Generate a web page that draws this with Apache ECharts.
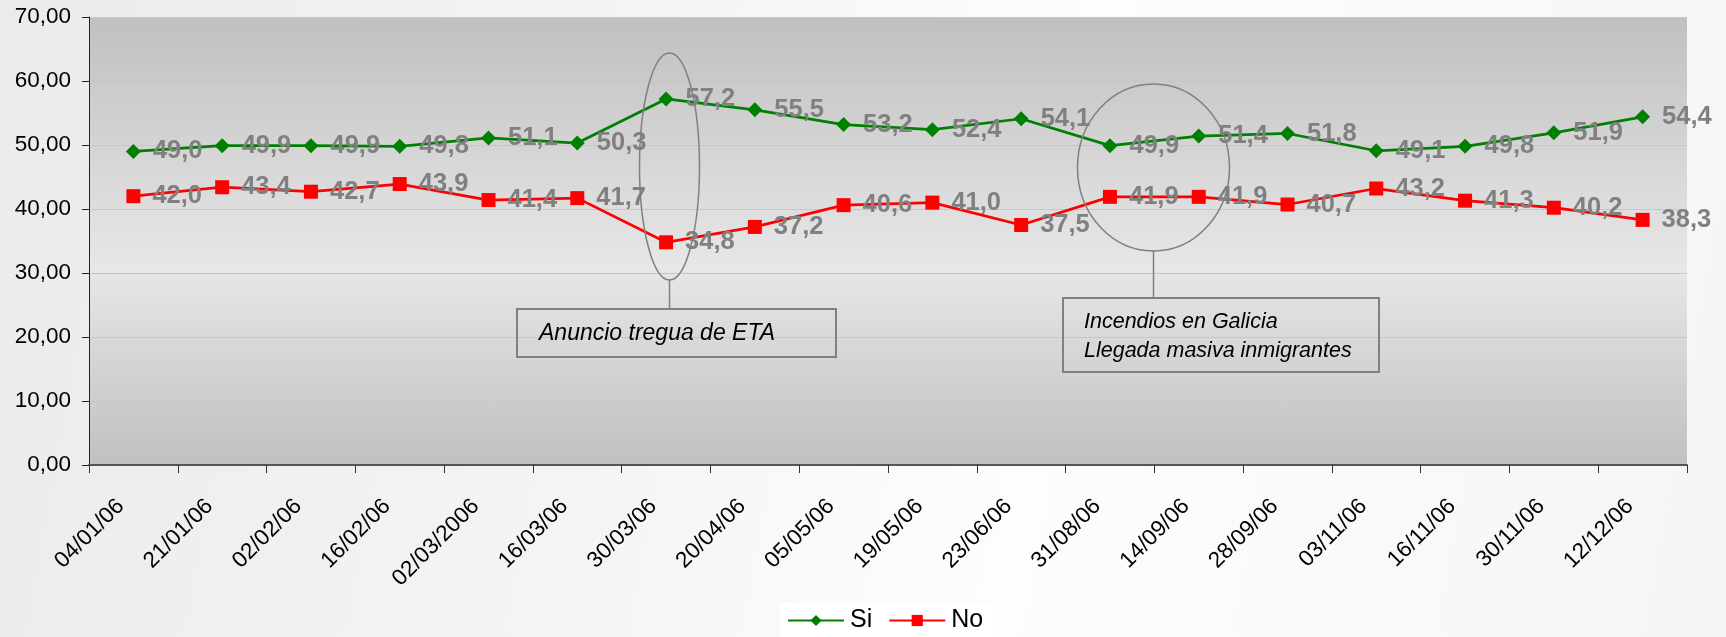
<!DOCTYPE html>
<html>
<head>
<meta charset="utf-8">
<script src="https://cdn.jsdelivr.net/npm/echarts@6/dist/echarts.min.js"></script>
<style>
  html, body { margin: 0; padding: 0; width: 1726px; height: 637px; overflow: hidden;
    background: linear-gradient(100deg, #ebebeb 0%, #f4f4f4 35%, #fdfdfd 60%, #f5f5f5 100%); }
  #chart { width: 1726px; height: 637px; }
</style>
</head>
<body>
<div id="chart"></div>
<script>
const categories = ['04/01/06','21/01/06','02/02/06','16/02/06','02/03/2006','16/03/06','30/03/06','20/04/06','05/05/06','19/05/06','23/06/06','31/08/06','14/09/06','28/09/06','03/11/06','16/11/06','30/11/06','12/12/06'];
const siValues = [49.0, 49.9, 49.9, 49.8, 51.1, 50.3, 57.2, 55.5, 53.2, 52.4, 54.1, 49.9, 51.4, 51.8, 49.1, 49.8, 51.9, 54.4];
const noValues = [42.0, 43.4, 42.7, 43.9, 41.4, 41.7, 34.8, 37.2, 40.6, 41.0, 37.5, 41.9, 41.9, 40.7, 43.2, 41.3, 40.2, 38.3];
const seriesNames = ['Si', 'No'];
const yTicks = { min: 0, max: 70, interval: 10 };
const annotationTexts = ['Anuncio tregua de ETA', 'Incendios en Galicia\nLlegada masiva inmigrantes'];

const FONT = "'Liberation Sans', Arial, sans-serif";
const fmt1 = v => v.toFixed(1).replace('.', ',');
const fmt2 = v => v.toFixed(2).replace('.', ',');

const chart = echarts.init(document.getElementById('chart'), null, { renderer: 'canvas' });

const labelCfg = {
  show: true, position: 'right', distance: 12,
  color: '#808080', fontWeight: 'bold', fontSize: 25.5, fontFamily: FONT,
  formatter: p => fmt1(p.value)
};

const option = {
  backgroundColor: 'transparent',
  animation: false,
  grid: {
    left: 89, right: 39, top: 17, bottom: 172, containLabel: false,
    show: true, borderWidth: 0,
    backgroundColor: {
      type: 'linear', x: 0, y: 0, x2: 0, y2: 1,
      colorStops: [
        { offset: 0, color: '#c0c0c0' },
        { offset: 0.56, color: '#e7e7e7' },
        { offset: 1, color: '#c0c0c0' }
      ]
    }
  },
  legend: {
    data: seriesNames,
    left: 780, top: 603,
    padding: [5, 10, 12, 7],
    backgroundColor: '#ffffff',
    itemWidth: 56, itemHeight: 14, itemGap: 16,
    textStyle: { fontSize: 25, color: '#000', fontFamily: FONT, padding: [0, 0, 0, 1] }
  },
  xAxis: {
    type: 'category',
    data: categories,
    boundaryGap: true,
    axisLine: { show: true, lineStyle: { color: '#555', width: 2 } },
    axisTick: { show: true, interval: 0, length: 8, lineStyle: { color: '#333', width: 1 } },
    axisLabel: { interval: 0, rotate: 45, margin: 25, padding: [0, 18, 0, 0], fontSize: 22.5, color: '#000', fontFamily: FONT },
    splitLine: { show: false }
  },
  yAxis: {
    type: 'value',
    min: yTicks.min, max: yTicks.max, interval: yTicks.interval,
    axisLine: { show: true, lineStyle: { color: '#222', width: 1 } },
    axisTick: { show: true, inside: false, length: 7, lineStyle: { color: '#222' } },
    axisLabel: { fontSize: 22.5, color: '#000', fontFamily: FONT, margin: 18, formatter: v => fmt2(v) },
    splitLine: { show: true, lineStyle: { color: '#c6c6c6', width: 1 } }
  },
  series: [
    {
      name: seriesNames[0], type: 'line', data: siValues,
      symbol: 'diamond', symbolSize: 15,
      lineStyle: { color: '#008000', width: 2.75 },
      itemStyle: { color: '#008000' },
      label: labelCfg
    },
    {
      name: seriesNames[1], type: 'line', data: noValues,
      symbol: 'rect', symbolSize: 14,
      lineStyle: { color: '#ff0000', width: 2.75 },
      itemStyle: { color: '#ff0000' },
      label: labelCfg
    }
  ],
  graphic: [
    { type: 'ellipse', shape: { cx: 669.5, cy: 166.5, rx: 30, ry: 113.5 },
      style: { fill: 'none', stroke: '#808080', lineWidth: 1.5 }, z: 10 },
    { type: 'line', shape: { x1: 669.5, y1: 280, x2: 669.5, y2: 309 },
      style: { stroke: '#808080', lineWidth: 1.5 }, z: 10 },
    { type: 'rect', shape: { x: 517, y: 309, width: 319, height: 48 },
      style: { fill: 'none', stroke: '#808080', lineWidth: 2 }, z: 10 },
    { type: 'text', x: 539, y: 334, z: 10,
      style: { text: annotationTexts[0], font: 'italic 23px ' + FONT, fill: '#000', verticalAlign: 'middle' } },
    { type: 'ellipse', shape: { cx: 1153.5, cy: 167.5, rx: 76, ry: 83.5 },
      style: { fill: 'none', stroke: '#808080', lineWidth: 1.5 }, z: 10 },
    { type: 'line', shape: { x1: 1153.5, y1: 251, x2: 1153.5, y2: 298 },
      style: { stroke: '#808080', lineWidth: 1.5 }, z: 10 },
    { type: 'rect', shape: { x: 1063, y: 298, width: 316, height: 74 },
      style: { fill: 'none', stroke: '#808080', lineWidth: 2 }, z: 10 },
    { type: 'text', x: 1084, y: 337, z: 10,
      style: { text: annotationTexts[1], font: 'italic 21.5px ' + FONT, fill: '#000', verticalAlign: 'middle', lineHeight: 29 } }
  ]
};

chart.setOption(option);
</script>
</body>
</html>
